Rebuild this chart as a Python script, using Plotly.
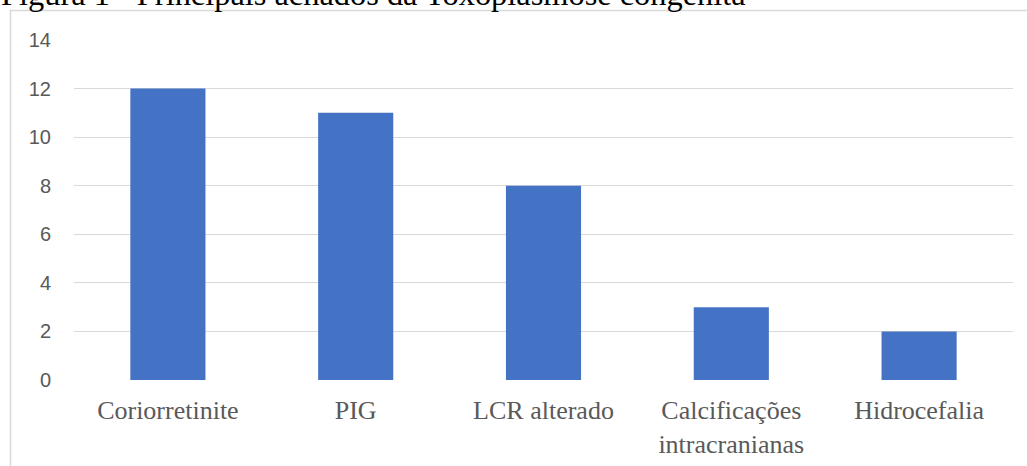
import plotly.graph_objects as go

# Achados clínicos e número de casos
categorias = ["Coriorretinite", "PIG", "LCR alterado", "Calcificações<br>intracranianas", "Hidrocefalia"]
casos = [12, 11, 8, 3, 2]
y_ticks = [0, 2, 4, 6, 8, 10, 12, 14]

W, H = 1027, 466
L, R, T, B = 74, 14, 40, 86
pw, ph = W - L - R, H - T - B


def py(pixel_from_top):
    """Converte uma posição vertical em pixels (a partir do topo) para coordenada de papel."""
    return (T + ph - pixel_from_top) / ph


def px(pixel_from_left):
    return (pixel_from_left - L) / pw


fig = go.Figure(
    go.Bar(
        x=categorias,
        y=casos,
        marker=dict(color="#4472C4", line=dict(width=0)),
        width=0.4,
        hoverinfo="x+y",
    )
)

# Moldura da área do gráfico
fig.add_shape(
    type="rect", xref="paper", yref="paper",
    x0=px(10.5), x1=px(W + 20),
    y0=py(H + 20), y1=py(10.5),
    line=dict(color="#D9D9D9", width=1.5), fillcolor="rgba(0,0,0,0)", layer="below",
)

fig.add_annotation(
    text="Figura 1 - Principais achados da Toxoplasmose congênita",
    xref="paper", yref="paper",
    x=px(-1), xanchor="left",
    y=py(14), yanchor="bottom",
    showarrow=False,
    font=dict(family="Liberation Serif", size=32.4, color="#000000"),
)

fig.update_layout(
    width=W, height=H,
    margin=dict(l=L, r=R, t=T, b=B),
    paper_bgcolor="white", plot_bgcolor="white",
    showlegend=False,
    bargap=0.6,
    xaxis=dict(
        showgrid=False, showline=False, ticks="", automargin=False,
        ticklabelstandoff=12,
        tickfont=dict(family="Liberation Serif", size=26, color="#595959"),
    ),
    yaxis=dict(
        range=[0, 14], tickvals=y_ticks, showline=False, zeroline=False,
        gridcolor="#D9D9D9", gridwidth=1.3, ticks="", ticklen=0, automargin=False,
        ticklabelstandoff=22,
        tickfont=dict(family="Liberation Sans", size=20, color="#595959"),
    ),
)

fig.write_html("out.html")
